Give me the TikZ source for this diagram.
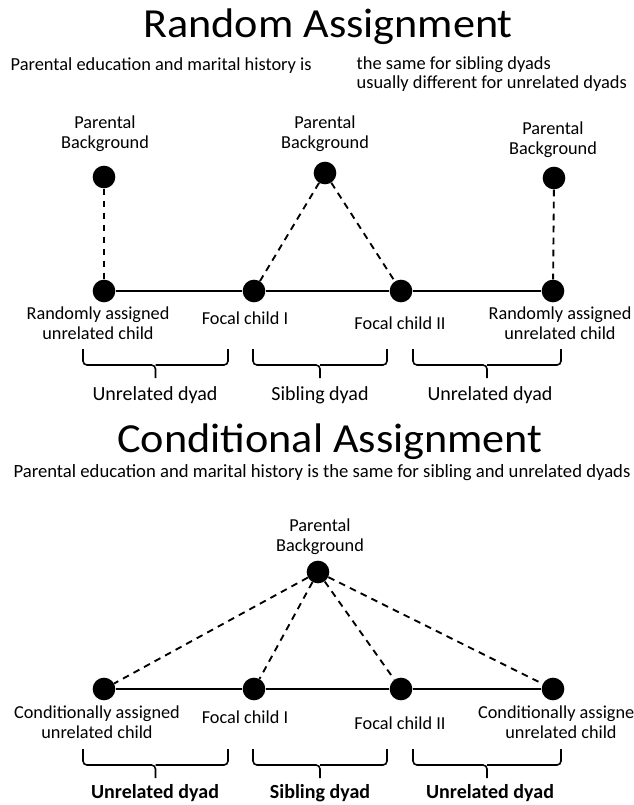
\documentclass[tikz,border=0pt]{standalone}
\usepackage{fontspec}
\setmainfont{Carlito}
\usepackage{tikz}

\tikzset{
  dot/.style={circle,fill=black,inner sep=0pt,minimum size=17pt},
  lbl/.style={font=\fontsize{13.7}{15.3}\selectfont,align=center},
  note/.style={font=\fontsize{13.8}{14.3}\selectfont},
  dyadlbl/.style={font=\fontsize{15}{17}\selectfont},
  title/.style={font=\fontsize{31}{38}\selectfont},
  solidline/.style={line width=1.8pt},
  dashline/.style={line width=1.4pt,dash pattern=on 5pt off 4pt},
  brace/.style={line width=1.2pt,rounded corners=3pt}
}

% dyad brace: left x, right x, top y
\newcommand{\dyadbrace}[3]{%
  \draw[brace] (#1,#3) -- (#1,#3+16) -- ({(#1+#2)/2},#3+16) -- ({(#1+#2)/2},#3+29);
  \draw[brace] (#2,#3) -- (#2,#3+16) -- ({(#1+#2)/2},#3+16);
}

\begin{document}
\begin{tikzpicture}[x=0.75pt,y=-0.75pt]
\useasboundingbox (0,0) rectangle (634,805);

% Random assignment
\node[title,anchor=base] (ttlR) at (328,38) {\scalebox{1.07}[1]{Random Assignment}};
\node[note,anchor=base west] (txtR) at (6,71) {Parental education and marital history is};
\node[note,anchor=base west] (txtR2) at (352,70) {the same for sibling dyads};
\node[note,anchor=base west] (txtR3) at (352,89) {usually different for unrelated dyads};

\node[dot] (pbL) at (104,177) {};
\node[dot] (pbC) at (325,173) {};
\node[dot] (pbR) at (554,178) {};
\node[lbl] (pbLtxt) at (105,134) {Parental\\Background};
\node[lbl] (pbCtxt) at (325,134) {Parental\\Background};
\node[lbl] (pbRtxt) at (553,140) {Parental\\Background};

\node[dot] (rL) at (104,291) {};
\node[dot] (fI) at (254,291) {};
\node[dot] (fII) at (401,291) {};
\node[dot] (rR) at (553,291) {};

\draw[solidline] (rL) -- (fI) -- (fII) -- (rR);
\draw[dashline] (pbL) -- (rL);
\draw[dashline] (pbR) -- (rR);
\draw[dashline] (pbC) -- (fI);
\draw[dashline] (pbC) -- (fII);

\node[lbl] (rLtxt) at (98,323) {Randomly assigned\\unrelated child};
\node[lbl] (fItxt) at (245,318) {Focal child I};
\node[lbl] (fIItxt) at (400,323) {Focal child II};
\node[lbl] (rRtxt) at (560,323) {Randomly assigned\\unrelated child};

\dyadbrace{83}{228}{349}
\dyadbrace{253}{387}{349}
\dyadbrace{413}{561}{349}
\node[dyadlbl] (duL) at (155,395) {Unrelated dyad};
\node[dyadlbl] (dsR) at (320,395) {Sibling dyad};
\node[dyadlbl] (duR) at (490,395) {Unrelated dyad};

% Conditional assignment
\node[title,anchor=base] (ttlC) at (330,452) {\scalebox{1.07}[1]{Conditional Assignment}};
\node[note,font=\fontsize{14}{14.3}\selectfont,anchor=base] (txtC) at (322,477) {Parental education and marital history is the same for sibling and unrelated dyads};

\node[lbl] (pbtxt) at (320,537) {Parental\\Background};
\node[dot] (pb) at (318,572) {};

\node[dot] (cL) at (104,689) {};
\node[dot] (cI) at (254,689) {};
\node[dot] (cII) at (401,689) {};
\node[dot] (cR) at (553,689) {};

\draw[solidline] (cL) -- (cI) -- (cII) -- (cR);
\draw[dashline] (pb) -- (cL);
\draw[dashline] (pb) -- (cI);
\draw[dashline] (pb) -- (cII);
\draw[dashline] (pb) -- (cR);

\node[lbl] (cLtxt) at (97,722) {Conditionally assigned\\unrelated child};
\node[lbl] (cItxt) at (245,717) {Focal child I};
\node[lbl] (cIItxt) at (400,723) {Focal child II};
\node[lbl] (cRtxt) at (561,722) {Conditionally assigned\\unrelated child};

\dyadbrace{83}{228}{749}
\dyadbrace{253}{387}{749}
\dyadbrace{413}{561}{749}
\node[dyadlbl,font=\fontsize{15}{17}\selectfont\bfseries] (cuL) at (155,793) {Unrelated dyad};
\node[dyadlbl,font=\fontsize{15}{17}\selectfont\bfseries] (csR) at (320,793) {Sibling dyad};
\node[dyadlbl,font=\fontsize{15}{17}\selectfont\bfseries] (cuR) at (490,793) {Unrelated dyad};

\end{tikzpicture}
\end{document}
